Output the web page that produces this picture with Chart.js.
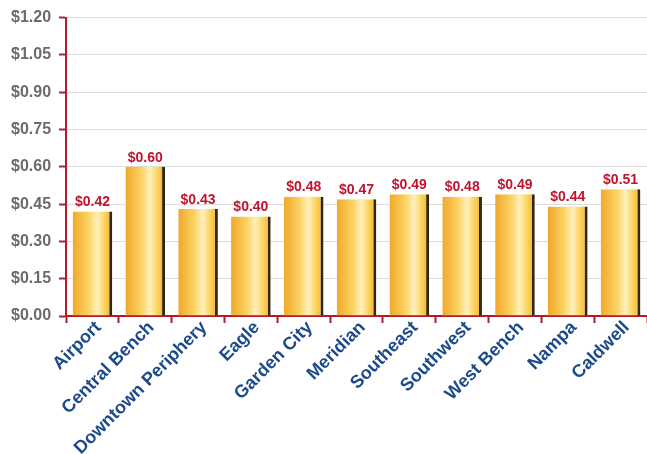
<!DOCTYPE html>
<html>
<head>
<meta charset="utf-8">
<script src="https://cdn.jsdelivr.net/npm/chart.js@4"></script>
<style>
  body { margin: 0; background: #fff; }
  #wrap { width: 647px; height: 454px; }
</style>
</head>
<body>
<div id="wrap"><canvas id="costChart"></canvas></div>
<script>
const areas = ['Airport', 'Central Bench', 'Downtown Periphery', 'Eagle', 'Garden City',
    'Meridian', 'Southeast', 'Southwest', 'West Bench', 'Nampa', 'Caldwell'];
const costs = [0.42, 0.60, 0.43, 0.40, 0.48, 0.47, 0.49, 0.48, 0.49, 0.44, 0.51];
const yTicks = [0, 0.15, 0.30, 0.45, 0.60, 0.75, 0.90, 1.05, 1.20];

const axisRed = '#b01c2e';

function money(v) {
    return '$' + Number(v).toFixed(2);
}

// horizontal gradient per bar, light streak right of centre
function barFill(context) {
    const chart = context.chart;
    const x = chart.scales.x;
    if (!x || !chart.chartArea) return '#f7c040';
    const cx = x.getPixelForValue(context.dataIndex);
    const w = (x.width / areas.length) * 0.75;
    const g = chart.ctx.createLinearGradient(cx - w / 2, 0, cx + w / 2, 0);
    g.addColorStop(0, '#f0a82a');
    g.addColorStop(0.4, '#fbd262');
    g.addColorStop(0.62, '#fff0bc');
    g.addColorStop(0.82, '#fbd158');
    g.addColorStop(1, '#f2ae2e');
    return g;
}

const valueLabels = {
    id: 'valueLabels',
    afterDatasetsDraw(chart) {
        const ctx = chart.ctx;
        const meta = chart.getDatasetMeta(0);
        ctx.save();
        ctx.font = 'bold 14px "Liberation Sans", Arial, sans-serif';
        ctx.fillStyle = '#c0142c';
        ctx.textAlign = 'center';
        ctx.textBaseline = 'bottom';
        meta.data.forEach((bar, i) => {
            ctx.fillText(money(costs[i]), bar.x, bar.y - 2);
        });
        ctx.restore();
    }
};

const ctx = document.getElementById('costChart').getContext('2d');
new Chart(ctx, {
    type: 'bar',
    data: {
        labels: areas,
        datasets: [{
            data: costs,
            backgroundColor: barFill,
            borderColor: '#33260f',
            borderWidth: { top: 0, left: 0, bottom: 0, right: 3 },
            borderSkipped: false,
            barPercentage: 0.75,
            categoryPercentage: 1.0
        }]
    },
    options: {
        responsive: true,
        maintainAspectRatio: false,
        animation: false,
        layout: { padding: { top: 4, right: 0, left: 3, bottom: 0 } },
        plugins: {
            legend: { display: false },
            tooltip: { enabled: false }
        },
        scales: {
            x: {
                afterFit: axis => { axis.height = 138; },
                grid: {
                    offset: true,
                    drawOnChartArea: false,
                    tickLength: 7,
                    tickColor: axisRed,
                    tickWidth: 2
                },
                border: { color: axisRed, width: 2 },
                ticks: {
                    minRotation: 45,
                    maxRotation: 45,
                    autoSkip: false,
                    padding: -6,
                    labelOffset: 6,
                    color: '#1c4a8a',
                    font: { family: '"Liberation Sans", Arial, sans-serif', size: 18, weight: 'bold' }
                }
            },
            y: {
                min: 0,
                max: 1.2,
                afterBuildTicks: axis => {
                    axis.ticks = yTicks.map(v => ({ value: v }));
                },
                grid: {
                    color: '#dcdcdc',
                    lineWidth: 1,
                    tickLength: 7,
                    tickColor: axisRed,
                    tickWidth: 2
                },
                border: { color: axisRed, width: 2 },
                ticks: {
                    padding: 8,
                    color: '#6b6b6b',
                    font: { family: '"Liberation Sans", Arial, sans-serif', size: 16, weight: 'bold' },
                    callback: v => money(v)
                }
            }
        }
    },
    plugins: [valueLabels]
});
</script>
</body>
</html>
